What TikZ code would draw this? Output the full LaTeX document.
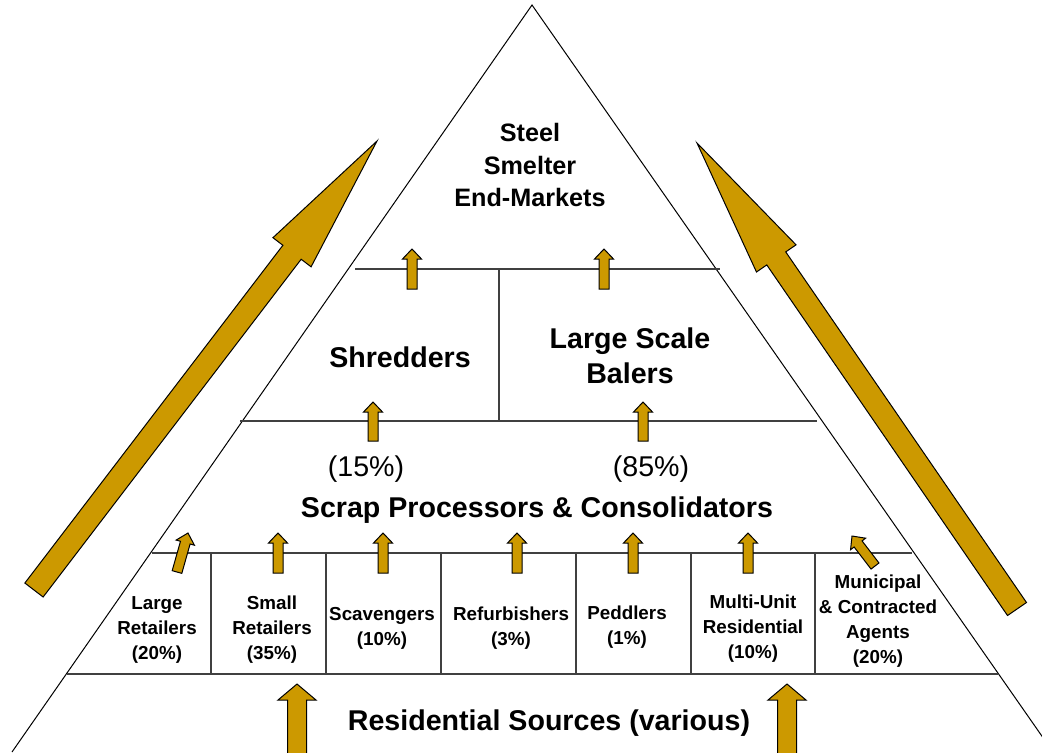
\documentclass[tikz,border=0pt]{standalone}
\usepackage{fontspec}
\setmainfont{Liberation Sans}
\usetikzlibrary{calc}
\definecolor{scrapgold}{RGB}{204,153,0}
% block arrow: tail, tip, half shaft, half head, head length
\newcommand{\goldarrow}[5]{%
  \coordinate (hb) at ($(#2)!#5!(#1)$);
  \draw[arrowfill] ($(#1)!#3!90:(#2)$) -- ($(hb)!#3!90:(#2)$) -- ($(hb)!#4!90:(#2)$)
    -- (#2) -- ($(hb)!#4!-90:(#2)$) -- ($(hb)!#3!-90:(#2)$) -- ($(#1)!#3!-90:(#2)$) -- cycle;}
\begin{document}
\begin{tikzpicture}[x=0.5pt,y=-0.5pt,
  tier/.style={draw=black!75,line width=0.75pt},
  arrowfill/.style={fill=scrapgold,draw=black,line width=0.5pt,line join=miter},
  boxlabel/.style={font=\fontsize{9.4}{12.5}\selectfont\bfseries,align=center,inner sep=0pt},
  biglabel/.style={font=\fontsize{14.3}{17.5}\selectfont\bfseries,align=center,inner sep=0pt}]
\useasboundingbox (0,0) rectangle (1042,752);
\clip (0,0) rectangle (1042,752);
% pyramid
\draw[line width=0.5pt] (12,752) -- (532,5) -- (1053,752);
\draw[tier] (355,269) -- (720,269);
\draw[tier] (499,269) -- (499,421);
\draw[tier] (240,421) -- (817,421);
\draw[tier] (152,553) -- (912,553);
\draw[tier] (67,674) -- (998,674);
\foreach \x in {211,326,441,576,691,815}
  \draw[tier] (\x,553) -- (\x,674);
% texts
\node[font=\fontsize{12.6}{16.25}\selectfont\bfseries,align=center,inner sep=0pt] (steel) at (530,165) {Steel\\Smelter\\End-Markets};
\node[biglabel] (shred) at (400,357) {Shredders};
\node[biglabel] (balers) at (630,356) {Large Scale\\Balers};
\node[font=\fontsize{14.3}{17.5}\selectfont,inner sep=0pt] (p15) at (366,469) {(15\%)};
\node[font=\fontsize{14.3}{17.5}\selectfont,inner sep=0pt] (p85) at (651,469) {(85\%)};
\node[biglabel] (scrap) at (537,510) {Scrap Processors \& Consolidators};
\node[biglabel] (resid) at (549,723) {Residential Sources (various)};
\node[boxlabel] (large) at (157,630) {Large\\Retailers\\(20\%)};
\node[boxlabel] (small) at (272,630) {Small\\Retailers\\(35\%)};
\node[boxlabel] (scav) at (382,628) {Scavengers\\(10\%)};
\node[boxlabel] (refurb) at (511,628) {Refurbishers\\(3\%)};
\node[boxlabel] (peddle) at (627,627) {Peddlers\\(1\%)};
\node[boxlabel] (multi) at (753,629) {Multi-Unit\\Residential\\(10\%)};
\node[boxlabel] (muni) at (878,621) {Municipal\\\& Contracted\\Agents\\(20\%)};
% small arrows
\foreach \x in {278,383,517,633,748}
  {\goldarrow{\x,573}{\x,533}{2.5pt}{4.75pt}{5pt}}
\goldarrow{177,572}{188,533}{2.5pt}{4.75pt}{5pt}
\goldarrow{875,566}{852,536}{2.5pt}{4.75pt}{5pt}
\goldarrow{373,441}{373,402}{2.5pt}{4.75pt}{5pt}
\goldarrow{643,441}{643,402}{2.5pt}{4.75pt}{5pt}
\goldarrow{412,289}{412,249}{2.5pt}{4.75pt}{5pt}
\goldarrow{604,289}{604,249}{2.5pt}{4.75pt}{5pt}
% big arrows
\goldarrow{297,760}{297,684}{4.75pt}{9.5pt}{8pt}
\goldarrow{787,760}{787,684}{4.75pt}{9.5pt}{8pt}
\goldarrow{34,590}{377,141}{5.75pt}{12pt}{70pt}
\goldarrow{1017,609}{697,143}{5.75pt}{12pt}{70pt}
\end{tikzpicture}
\end{document}
